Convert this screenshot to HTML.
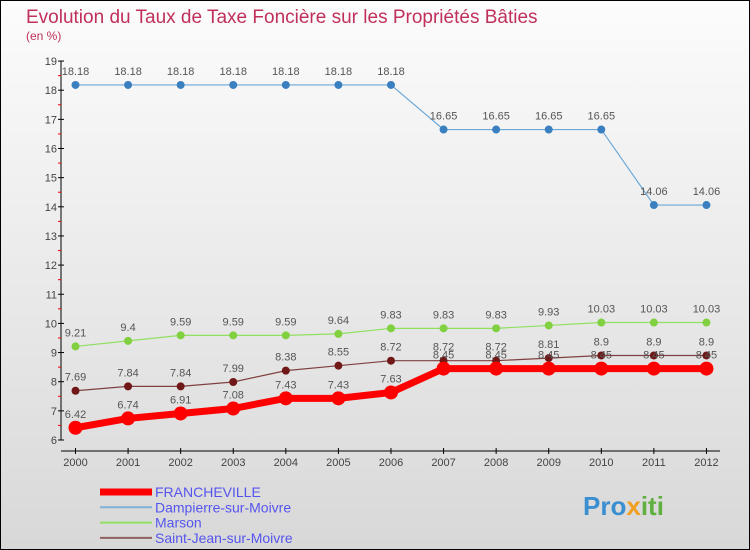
<!DOCTYPE html>
<html><head><meta charset="utf-8"><style>
body{margin:0}
#c{width:750px;height:550px;position:relative;box-sizing:border-box;border:1px solid #000;background:linear-gradient(#fcfcfc,#d8d8d8);font-family:"Liberation Sans",sans-serif;overflow:hidden}
</style></head><body>
<div id="c">
<svg width="750" height="550" style="position:absolute;left:-1px;top:-1px" id="svg">
<text x="26" y="23" font-size="19" fill="#c0305a">Evolution du Taux de Taxe Foncière sur les Propriétés Bâties</text>
<text x="26" y="40" font-size="12" fill="#c0305a">(en %)</text>
<g id="axes"></g><g id="series"></g><g id="legend"></g>
<text x="583" y="515" font-size="26" font-weight="bold" fill="#3a8fd0">Pro<tspan fill="#f0a020">x</tspan><tspan fill="#60b040">iti</tspan></text>
</svg>
</div>
<script>
const years=[2000,2001,2002,2003,2004,2005,2006,2007,2008,2009,2010,2011,2012];
const yTicks=[6,7,8,9,10,11,12,13,14,15,16,17,18,19];
const francheville=[6.42,6.74,6.91,7.08,7.43,7.43,7.63,8.45,8.45,8.45,8.45,8.45,8.45];
const dampierre=[18.18,18.18,18.18,18.18,18.18,18.18,18.18,16.65,16.65,16.65,16.65,14.06,14.06];
const marson=[9.21,9.4,9.59,9.59,9.59,9.64,9.83,9.83,9.83,9.93,10.03,10.03,10.03];
const saintJean=[7.69,7.84,7.84,7.99,8.38,8.55,8.72,8.72,8.72,8.81,8.9,8.9,8.9];
const NS="http://www.w3.org/2000/svg";
const X=i=>75.5+i*52.58, Y=v=>440-(v-6)*29.15;
function mk(t,a,p){const e=document.createElementNS(NS,t);for(const k in a)e.setAttribute(k,a[k]);p.appendChild(e);return e;}
const ax=document.getElementById('axes');
const yl=mk('line',{x1:61,y1:Y(19),x2:61,y2:Y(6),stroke:'#000'},ax);


const xl=mk('line',{x1:61,y1:451,x2:720,y2:451,stroke:'#000'},ax);


yTicks.forEach(v=>{
 mk('line',{x1:58,x2:64,y1:Y(v),y2:Y(v),stroke:'#000'},ax);
 if(v<19)mk('line',{x1:58,x2:61,y1:Y(v+0.5),y2:Y(v+0.5),stroke:'#e00'},ax);
 const t=mk('text',{x:57,y:Y(v)+4,'text-anchor':'end','font-size':11,fill:'#444'},ax);t.textContent=v;
 
 
});
years.forEach((y,i)=>{
 mk('line',{x1:X(i),x2:X(i),y1:448,y2:454,stroke:'#000'},ax);
 const t=mk('text',{x:X(i),y:466,'text-anchor':'middle','font-size':11,fill:'#444'},ax);t.textContent=y;
 
 
});
const sg=document.getElementById('series');
function series(vals,col,w,r,dot,name){
 const g=mk('g',{},sg);
 
 
 mk('polyline',{points:vals.map((v,i)=>X(i)+','+Y(v)).join(' '),fill:'none',stroke:col,'stroke-width':w},g);
 vals.forEach((v,i)=>{
  const c=mk('circle',{cx:X(i),cy:Y(v),r:r,fill:dot},g);
  
  
  const t=mk('text',{x:X(i),y:Y(v)-10,'text-anchor':'middle','font-size':11,fill:'#555'},g);t.textContent=v;
  
  
 });
}
series(dampierre,'#6aa8d8',1.2,4,'#3a80c0','series-dampierre');
series(marson,'#90e060',1.2,4,'#80d040','series-marson');
series(saintJean,'#804040',1.2,4,'#701818','series-saint-jean');
series(francheville,'#f00',7,7,'#f00','series-francheville');
const lg=document.getElementById('legend');
[['FRANCHEVILLE','#f00',7],['Dampierre-sur-Moivre','#80b0d8',2],['Marson','#90e060',2],['Saint-Jean-sur-Moivre','#906060',2]].forEach((d,i)=>{
 const y=492+i*15.3;
 const g=mk('g',{},lg);
 
 
 mk('line',{x1:100,x2:152,y1:y,y2:y,stroke:d[1],'stroke-width':d[2]},g);
 const t=mk('text',{x:155,y:y+5,'font-size':14,fill:'#5555ee'},g);t.textContent=d[0];
});
</script>
</body></html>
